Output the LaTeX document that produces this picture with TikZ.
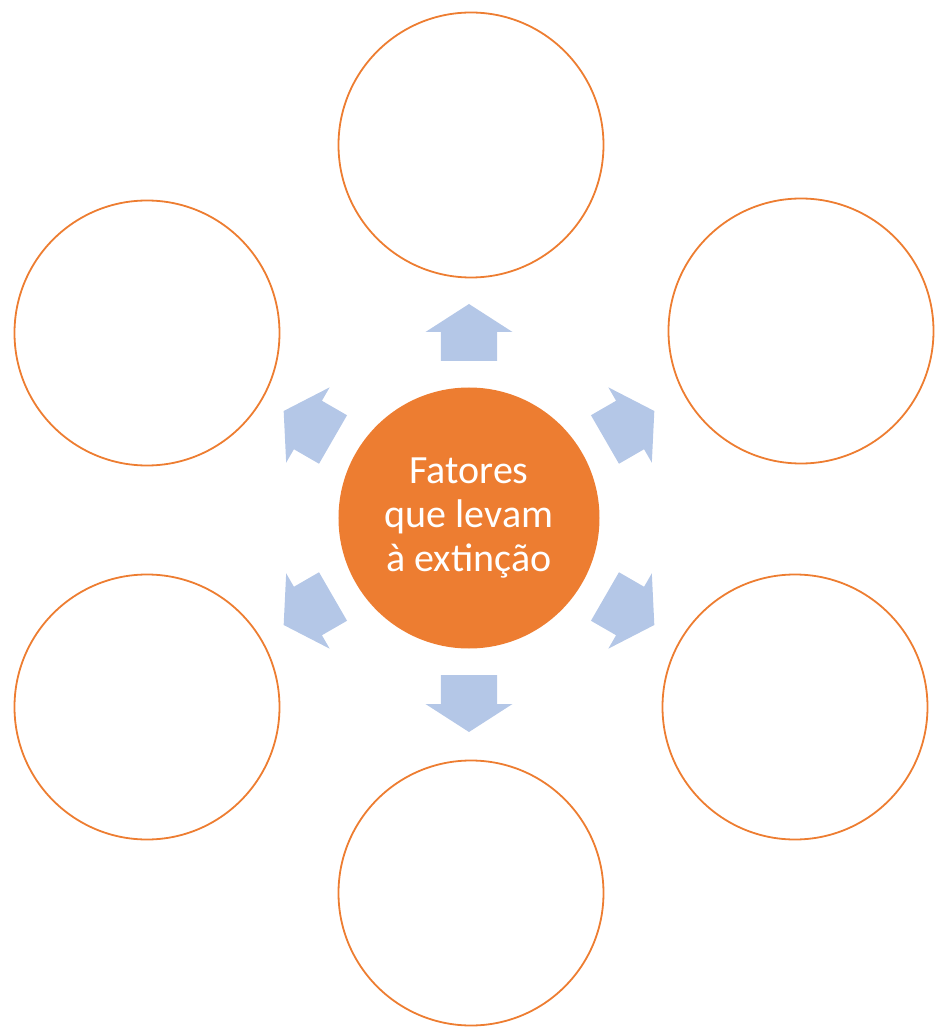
\documentclass[tikz,border=0pt]{standalone}
\usepackage{fontspec}
\setmainfont{Carlito}
\usepackage{xcolor}
\definecolor{orangeline}{RGB}{237,125,49}
\definecolor{arrowblue}{RGB}{180,199,231}
\tikzset{
  outer/.style={circle, draw=orangeline, line width=1.8pt, minimum size=265pt, inner sep=0pt},
  hub/.style={circle, fill=orangeline, minimum size=261pt, inner sep=0pt, text=white, align=center,
    font=\fontsize{40}{44}\selectfont},
  arrowfill/.style={fill=arrowblue}
}
\begin{document}
\begin{tikzpicture}[x=1pt,y=1pt]
				\useasboundingbox (-469,-510) rectangle (469,518);
				\node[hub] (C) at (0,0) {Fatores\\que levam\\à extinção};
				
				% outer ring
				\foreach \x/\y/\z in
				{T/2/373, TR/332/187, BR/326/-189, B/2/-375, BL/-322/-189, TL/-322/185}{
					\node[outer] (\x) at (\y,\z) {};
				}
				
				% arrows out of the hub
				\foreach \a in {90,30,-30,-90,-150,150}{
					\fill[arrowfill, shift={(C.center)}, rotate=\a]
						(157,-28) -- (186,-28) -- (186,-43.5) -- (214,0)
						-- (186,43.5) -- (186,28) -- (157,28) -- cycle;
				}
			\end{tikzpicture}
\end{document}
